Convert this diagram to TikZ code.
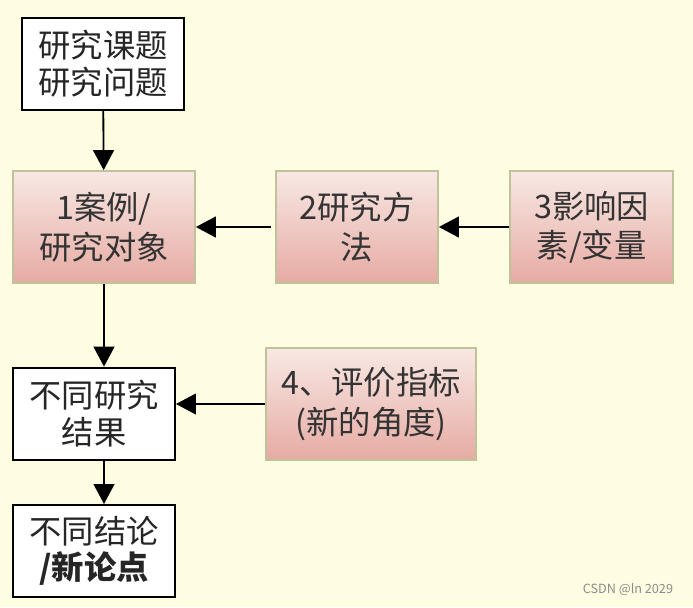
\documentclass[tikz,border=0pt]{standalone}
\usepackage{fontspec}
\setmainfont{Noto Sans CJK SC}
\usetikzlibrary{shapes,arrows,arrows.meta}
\definecolor{paper}{HTML}{FFFDE1}
\definecolor{rim}{HTML}{BFC29A}
\definecolor{pinktop}{HTML}{F8E8E4}
\definecolor{pinkbot}{HTML}{E6ABA3}
\tikzstyle{plain} = [rectangle, draw=black, line width=1.4pt, fill=white, align=center, text=black!85, font=\fontsize{23}{26}\selectfont, minimum width=4.05cm, minimum height=2.3cm, inner sep=0pt]
\tikzstyle{pink} = [rectangle, draw=rim, line width=1.2pt, top color=pinktop, bottom color=pinkbot, align=center, text=black!80, font=\fontsize{23}{28}\selectfont, minimum height=2.8cm, inner sep=0pt]
\tikzstyle{line} = [draw, line width=1.3pt, -{Triangle[length=5mm,width=5.2mm]}]

\begin{document}
\begin{tikzpicture}
		\fill [paper] (0,0) rectangle (17.325,-15.175);
		\useasboundingbox (0,0) rectangle (17.325,-15.175);

		\node [plain] (topic) at (2.575,-1.59) {研究课题\\研究问题};
		\node [pink, minimum width=4.55cm] (case) at (2.6,-5.675) {1案例/\\研究对象};
		\node [pink, minimum width=4.05cm] (method) at (8.925,-5.675) {2研究方\\法};
		\node [pink, minimum width=4.075cm] (factor) at (14.79,-5.675) {3影响因\\素/变量};
		\node [plain] (result) at (2.35,-10.34) {不同研究\\结果};
		\node [pink, minimum width=5.25cm] (index) at (9.275,-10.1) {4、评价指标\\(新的角度)};
		\node [plain] (concl) at (2.35,-13.775) {不同结论\\\textbf{/新论点}};
		\node [text=black!45, font=\fontsize{9}{10}\selectfont, anchor=east] (mark) at (16.95,-14.75) {CSDN @ln 2029};

		\path [line] (topic) -- (case);
		\path [line, shorten <=0.1cm] (method) -- (case);
		\path [line] (factor) -- (method);
		\path [line] (case.south) -- (case.south |- result.north);
		\path [line] (index.west) -- ++(-2.1,0) coordinate (tip) -- (tip -| result.east);
		\path [line] (result.south -| case.south) -- (concl.north -| case.south);
	\end{tikzpicture}
\end{document}
